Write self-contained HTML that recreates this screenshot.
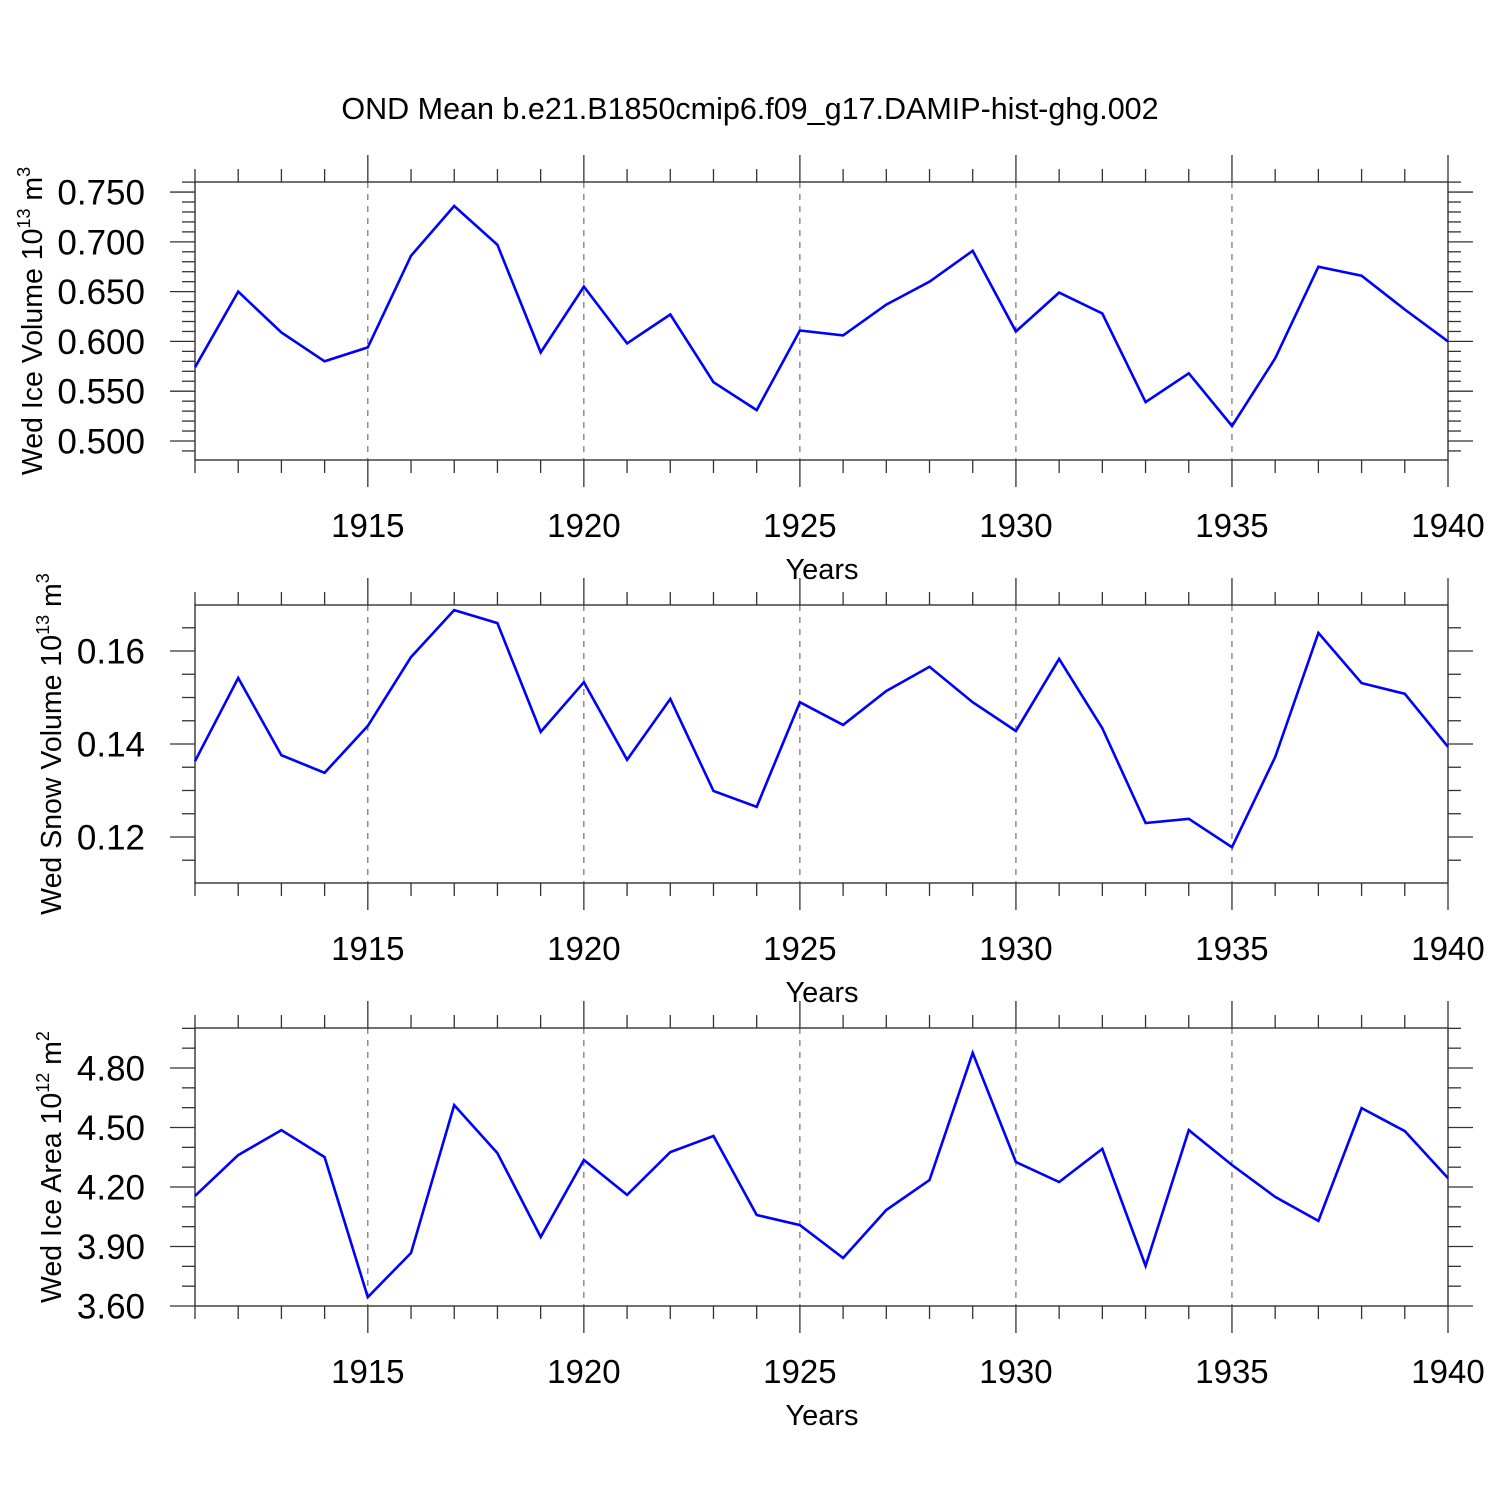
<!DOCTYPE html>
<html><head><meta charset="utf-8"><style>
html,body{margin:0;padding:0;background:#fff}
svg{display:block;font-family:"Liberation Sans",Arial,sans-serif}
</style></head><body>
<svg id="c" width="1500" height="1500" viewBox="0 0 1500 1500" xmlns="http://www.w3.org/2000/svg">
<text x="750" y="119" font-size="30.5" text-anchor="middle">OND Mean b.e21.B1850cmip6.f09_g17.DAMIP-hist-ghg.002</text>
</svg>
<script>
const years = [1911,1912,1913,1914,1915,1916,1917,1918,1919,1920,1921,1922,1923,1924,1925,1926,1927,1928,1929,1930,1931,1932,1933,1934,1935,1936,1937,1938,1939,1940];
const iceVolume = [0.574,0.650,0.609,0.580,0.594,0.686,0.736,0.697,0.589,0.655,0.598,0.627,0.559,0.531,0.611,0.606,0.637,0.660,0.691,0.610,0.649,0.628,0.539,0.568,0.515,0.583,0.675,0.666,0.632,0.600];
const snowVolume = [0.1363,0.1542,0.1376,0.1338,0.1439,0.1587,0.1688,0.1660,0.1426,0.1533,0.1366,0.1497,0.1299,0.1265,0.1490,0.1441,0.1514,0.1566,0.1490,0.1428,0.1583,0.1434,0.1230,0.1239,0.1178,0.1372,0.1639,0.1531,0.1508,0.1394];
const iceArea = [4.155,4.361,4.487,4.351,3.645,3.867,4.613,4.371,3.948,4.336,4.160,4.376,4.457,4.059,4.008,3.842,4.084,4.235,4.876,4.326,4.225,4.392,3.802,4.487,4.311,4.150,4.029,4.598,4.482,4.245];
const xTickLabels = ["1915","1920","1925","1930","1935","1940"];
const iceVolTicks = ["0.500","0.550","0.600","0.650","0.700","0.750"];
const snowTicks = ["0.12","0.14","0.16"];
const areaTicks = ["3.60","3.90","4.20","4.50","4.80"];

const NS="http://www.w3.org/2000/svg";
const svg=document.getElementById('c');
function mk(tag,attrs,parent){const e=document.createElementNS(NS,tag);for(const k in attrs)e.setAttribute(k,attrs[k]);(parent||svg).appendChild(e);return e;}
const X0=195,X1=1448,XMIN=1911,XMAX=1940;
function xs(v){return X0+(v-XMIN)/(XMAX-XMIN)*(X1-X0);}

const panels=[
 {name:'ice-volume',top:182,bot:460,ymin:0.4809,ymax:0.7601,data:iceVolume,ticks:iceVolTicks,minor:0.01,title:'Wed Ice Volume 10',sup1:'13',unit:' m',sup2:'3',tx:42},
 {name:'snow-volume',top:605,bot:883,ymin:0.1101,ymax:0.1699,data:snowVolume,ticks:snowTicks,minor:0.005,title:'Wed Snow Volume 10',sup1:'13',unit:' m',sup2:'3',tx:61},
 {name:'ice-area',top:1028,bot:1306,ymin:3.6,ymax:5.0017,data:iceArea,ticks:areaTicks,minor:0.1,title:'Wed Ice Area 10',sup1:'12',unit:' m',sup2:'2',tx:61}
];
panels.forEach(p=>{
 const g=mk('g',{});
 
 
 const ys=v=>p.bot-(v-p.ymin)/(p.ymax-p.ymin)*(p.bot-p.top);
 xTickLabels.forEach(t=>{const v=+t;if(v<XMAX){const l=mk('line',{x1:xs(v),x2:xs(v),y1:p.top,y2:p.bot,stroke:'#555','stroke-width':1,'stroke-dasharray':'6,6'},g);
 
 }});
 const r=mk('rect',{x:X0,y:p.top,width:X1-X0,height:p.bot-p.top,fill:'none',stroke:'#222','stroke-width':1.3},g);
 
 
 years.forEach(y=>{const major=(y%5===0);const L=major?27:13;const x=xs(y);
  mk('line',{x1:x,x2:x,y1:p.top,y2:p.top-L,stroke:'#333','stroke-width':1.3},g);
  mk('line',{x1:x,x2:x,y1:p.bot,y2:p.bot+L,stroke:'#333','stroke-width':1.3},g);});
 xTickLabels.forEach(t=>{const tx=mk('text',{x:xs(+t),y:p.bot+77,'font-size':33,'text-anchor':'middle'},g);tx.textContent=t;
  
  });
 const xt=mk('text',{x:822,y:p.bot+119,'font-size':29,'text-anchor':'middle'},g);xt.textContent='Years';
 
 
 const start=Math.ceil(p.ymin/p.minor-1e-6);
 const majors=p.ticks.map(Number);
 for(let i=start;i*p.minor<=p.ymax+1e-9;i++){const v=i*p.minor;const y=ys(v);
  const isMajor=majors.some(m=>Math.abs(m-v)<1e-6);const L=isMajor?25:13;
  mk('line',{x1:X0,x2:X0-L,y1:y,y2:y,stroke:'#333','stroke-width':1.3},g);
  mk('line',{x1:X1,x2:X1+L,y1:y,y2:y,stroke:'#333','stroke-width':1.3},g);}
 p.ticks.forEach(t=>{const tx=mk('text',{x:145,y:ys(+t)+12.5,'font-size':35,'text-anchor':'end'},g);tx.textContent=t;
  
  });
 const cy=(p.top+p.bot)/2;
 const yt=mk('text',{x:0,y:0,'font-size':28.5,'text-anchor':'middle',transform:`translate(${p.tx},${cy}) rotate(-90)`},g);
 
 
 const a=mk('tspan',{},yt);a.textContent=p.title;
 const b=mk('tspan',{dy:-12,'font-size':18},yt);b.textContent=p.sup1;
 const c=mk('tspan',{dy:12},yt);c.textContent=p.unit;
 const d=mk('tspan',{dy:-12,'font-size':18},yt);d.textContent=p.sup2;
 const pts=years.map((y,i)=>xs(y).toFixed(1)+','+ys(p.data[i]).toFixed(1)).join(' ');
 const pl=mk('polyline',{points:pts,fill:'none',stroke:'#0000ff','stroke-width':2.6,'stroke-linejoin':'miter'},g);
 
 
});
</script>
</body></html>
